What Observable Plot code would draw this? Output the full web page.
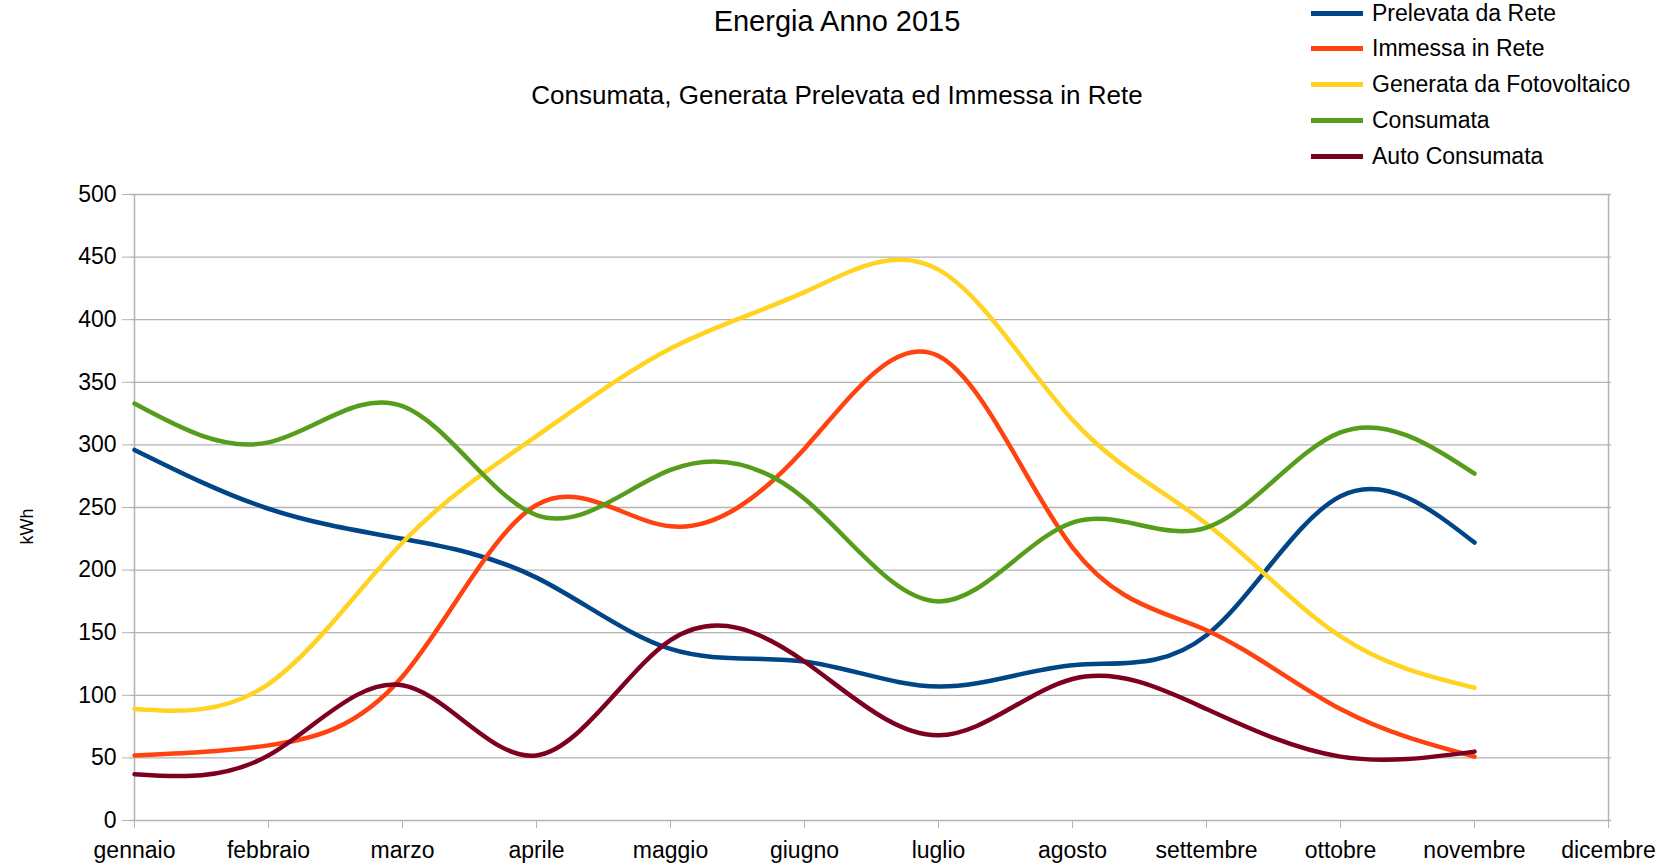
<!DOCTYPE html>
<html>
<head>
<meta charset="utf-8">
<script src="https://cdn.jsdelivr.net/npm/d3@7"></script>
<script src="https://cdn.jsdelivr.net/npm/@observablehq/plot@0.6"></script>
<style>
  html, body { margin: 0; padding: 0; background: #fff; }
  #wrap { position: relative; width: 1674px; height: 865px; font-family: "Liberation Sans", Arial, sans-serif; color: #000; overflow: hidden; }
  #chart { position: absolute; left: 0; top: 0; }
  .title { position: absolute; left: 0; width: 1674px; text-align: center; white-space: nowrap; }
  #legend { position: absolute; left: 1311px; top: 0; }
  .li { position: absolute; left: 0; height: 22px; line-height: 22px; display: flex; align-items: center; white-space: nowrap; font-size: 23px; }
  .sw { width: 52px; height: 5px; margin-right: 9px; }
</style>
</head>
<body>
<div id="wrap">
  <div id="chart"></div>
  <div class="title" id="t1" style="top:5px;font-size:29px;">Energia Anno 2015</div>
  <div class="title" id="t2" style="top:80px;font-size:26px;">Consumata, Generata Prelevata ed Immessa in Rete</div>
  <div id="legend"></div>
</div>
<script>
const months = ["gennaio","febbraio","marzo","aprile","maggio","giugno","luglio","agosto","settembre","ottobre","novembre","dicembre"];
const seriesNames = ["Prelevata da Rete","Immessa in Rete","Generata da Fotovoltaico","Consumata","Auto Consumata"];
const seriesColors = ["#004586","#ff420e","#ffd320","#579d1c","#7e0021"];
const prelevata = [296,249,225,194,137,127,107,124,148,259,222];
const immessa = [52,60,115,252,235,297,371,218,152,89,51];
const generata = [89,109,222,307,377,422,440,320,237,147,106];
const consumata = [333,302,331,244,280,257,175,238,234,310,277];
const autoConsumata = [37,52,108,52,144,127,68,113,89,51,55];
const yTicks = [0,50,100,150,200,250,300,350,400,450,500];

const allSeries = [prelevata, immessa, generata, consumata, autoConsumata];
const rows = [];
allSeries.forEach((vals, si) => vals.forEach((v, i) => rows.push({month: months[i], value: v, series: seriesNames[si]})));

const plot = Plot.plot({
  width: 1674,
  height: 865,
  marginLeft: 130,
  marginRight: 63,
  marginTop: 194,
  marginBottom: 45,
  style: { fontFamily: "Liberation Sans, Arial, sans-serif", fontSize: "23px", color: "#000", background: "transparent" },
  x: { type: "point", domain: months, padding: 0, label: null },
  y: { domain: [0, 500], label: null },
  color: { domain: seriesNames, range: seriesColors },
  marks: [
    Plot.ruleY(yTicks, { stroke: "#b3b3b3", strokeWidth: 1.3 }),
    Plot.ruleX([months[0], months[months.length - 1]], { stroke: "#b3b3b3", strokeWidth: 1.5 }),
    Plot.axisY({ ticks: yTicks, tickSize: 8, tickPadding: 6, stroke: "#b3b3b3", tickFormat: d => d, fontSize: 23, label: null }),
    Plot.axisX({ tickSize: 8, tickPadding: 13, stroke: "#b3b3b3", fontSize: 23, label: null }),
    Plot.text(["kWh"], { frameAnchor: "left", dx: -103, dy: 37, rotate: -90, fontSize: 18 }),
    Plot.lineY(rows, { x: "month", y: "value", z: "series", stroke: "series", strokeWidth: 4.5, curve: "natural" })
  ]
});
document.getElementById("chart").appendChild(plot);

const legend = document.getElementById("legend");
const legendTops = [2, 37, 73, 109, 145];
seriesNames.forEach((n, i) => {
  const d = document.createElement("div");
  d.className = "li";
  d.style.top = legendTops[i] + "px";
  d.innerHTML = `<div class="sw" style="background:${seriesColors[i]}"></div><span>${n}</span>`;
  legend.appendChild(d);
});
</script>
</body>
</html>
